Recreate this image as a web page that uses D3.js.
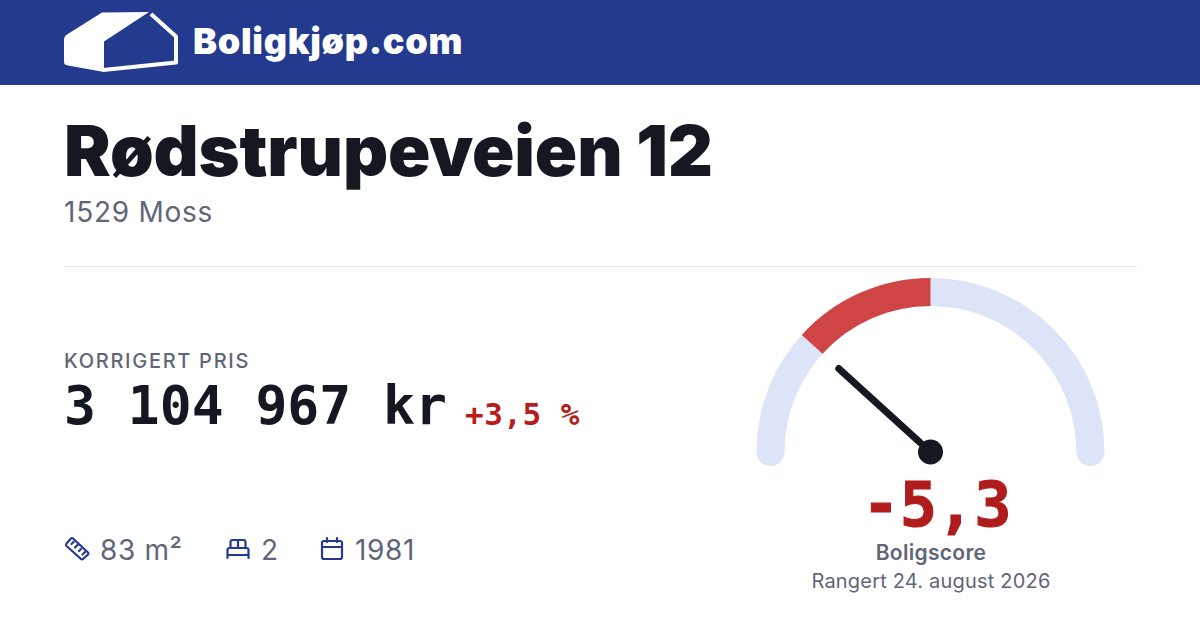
<!DOCTYPE html>
<html lang="en">
<head>
    <meta charset="UTF-8">
    <title>Boligkjøp.com</title>
    <style>
        html, body { margin: 0; padding: 0; background: #fff; }
        svg { display: block; }
        text { font-family: Inter, "Noto Sans", sans-serif; }
        .mono { font-family: "DejaVu Sans Mono", "Liberation Mono", monospace; }
        .icon { fill: none; stroke: #243a8f; stroke-width: 2.2; stroke-linecap: round; stroke-linejoin: round; }
    </style>
    <script src="https://d3js.org/d3.v7.min.js"></script>
</head>
<body>
    <script>
        const siteName = "Boligkjøp.com";
        const address = "Rødstrupeveien 12";
        const place = "1529 Moss";
        const priceLabel = "KORRIGERT PRIS";
        const priceText = "3 104 967 kr";
        const priceChange = "+3,5 %";
        const facts = ["83 m²", "2", "1981"];
        const scoreValue = -5.3;
        const scoreDomain = [-10, 10];
        const scoreText = "-5,3";
        const scoreLabel = "Boligscore";
        const ratedText = "Rangert 24. august 2026";

        const svg = d3.select("body").append("svg")
            .attr("width", 1200).attr("height", 630).attr("viewBox", "0 0 1200 630");

        // Header
        svg.append("rect").attr("width", 1200).attr("height", 85).attr("fill", "#243a8f");
        const logo = svg.append("g");
        logo.append("path").attr("fill", "#fff")
            .attr("d", "M104 72 L68 65.5 Q64 65 64 62 L64 40 Q64 36 67 34.5 L102 12.5 L149 12 L104 41.5 L104 68 Z");
        logo.append("path").attr("fill", "none").attr("stroke", "#fff").attr("stroke-width", 4).attr("stroke-linejoin", "round")
            .attr("d", "M151 14 L176 36.5 L176 62.5 L103 70");
        svg.append("text").text(siteName).attr("x", 193).attr("y", 54)
            .attr("font-size", 36).attr("font-weight", 900).attr("letter-spacing", 0.7).attr("fill", "#fff");

        // Address
        svg.append("text").text(address).attr("x", 64).attr("y", 176)
            .attr("font-size", 70).attr("font-weight", 900).attr("letter-spacing", -0.15).attr("fill", "#151821");
        svg.append("text").text(place).attr("x", 64).attr("y", 222)
            .attr("font-size", 28).attr("letter-spacing", 0.75).attr("fill", "#5f6678");
        svg.append("line").attr("x1", 64).attr("x2", 1137).attr("y1", 266.5).attr("y2", 266.5).attr("stroke", "#e5e7eb");

        // Price
        svg.append("text").text(priceLabel).attr("x", 64).attr("y", 368)
            .attr("font-size", 20).attr("font-weight", 500).attr("letter-spacing", 1.7).attr("fill", "#5f6678");
        svg.append("text").attr("class", "mono").text(priceText).attr("x", 64).attr("y", 424)
            .attr("font-size", 53).attr("font-weight", 700).attr("fill", "#151821");
        svg.append("text").attr("class", "mono").text(priceChange).attr("x", 465).attr("y", 425)
            .attr("font-size", 31).attr("font-weight", 700).attr("letter-spacing", 0.5).attr("fill", "#b91c1c");

        // Facts row
        const factX = [100, 261, 355];
        svg.selectAll("text.fact").data(facts).join("text").attr("class", "fact")
            .text(d => d).attr("x", (d, i) => factX[i]).attr("y", 560)
            .attr("font-size", 28).attr("letter-spacing", 0.65).attr("fill", "#5f6678");
        const icons = svg.append("g").attr("class", "icon");
        icons.append("path").attr("d", "M66.5 543.5 L71 538.5 Q72 537.5 73 538.5 L88 552.5 Q89 553.5 88 554.5 L83 559 Q82 560 81 559 L66.5 546 Q65.5 545 66.5 543.5 Z M71.5 544 L73.5 542 M75 547.5 L78 544.5 M79 551 L81 549 M82.5 554.5 L85 552");
        icons.append("path").attr("d", "M227.5 558 L227.5 550 Q227.5 548 229.5 548 L246.5 548 Q248.5 548 248.5 550 L248.5 558 M227.5 555 L248.5 555 M230.5 548 L230.5 542 Q230.5 540 232.5 540 L243.5 540 Q245.5 540 245.5 542 L245.5 548 M238 540 L238 548");
        icons.append("rect").attr("x", 322).attr("y", 541).attr("width", 20).attr("height", 18).attr("rx", 2);
        icons.append("path").attr("d", "M322 547 L342 547 M327 538 L327 542 M337 538 L337 542");

        // Gauge
        const cx = 930.5, cy = 452;
        const angle = d3.scaleLinear().domain(scoreDomain).range([-Math.PI / 2, Math.PI / 2]);
        const gauge = svg.append("g").attr("transform", `translate(${cx},${cy})`);
        const radial = d3.arc().innerRadius(146).outerRadius(174);
        gauge.append("path")
            .attr("d", radial({ startAngle: angle(scoreDomain[0]), endAngle: angle(scoreDomain[1]) }))
            .attr("fill", "#dee4f7");
        gauge.selectAll("circle.cap").data(scoreDomain).join("circle").attr("class", "cap")
            .attr("cx", d => 160 * Math.sin(angle(d))).attr("cy", 0).attr("r", 14).attr("fill", "#dee4f7");
        gauge.append("path")
            .attr("d", radial({ startAngle: angle(scoreValue), endAngle: angle(0) }))
            .attr("fill", "#cf4546");
        const a = angle(scoreValue);
        gauge.append("line")
            .attr("x1", 14 * Math.sin(a)).attr("y1", -14 * Math.cos(a))
            .attr("x2", 124 * Math.sin(a)).attr("y2", -124 * Math.cos(a))
            .attr("stroke", "#151821").attr("stroke-width", 7).attr("stroke-linecap", "round");
        gauge.append("circle").attr("r", 12.5).attr("fill", "#151821");

        // Score text
        svg.append("text").attr("class", "mono").text(scoreText).attr("x", 937).attr("y", 526)
            .attr("text-anchor", "middle").attr("font-size", 62).attr("font-weight", 700)
            .attr("stroke", "#b01c1c").attr("stroke-width", 1).attr("fill", "#b01c1c");
        svg.append("text").text(scoreLabel).attr("x", 931).attr("y", 560)
            .attr("text-anchor", "middle").attr("font-size", 21).attr("font-weight", 600).attr("letter-spacing", 0.3).attr("fill", "#5f6678");
        svg.append("text").text(ratedText).attr("x", 931).attr("y", 588)
            .attr("text-anchor", "middle").attr("font-size", 20).attr("letter-spacing", 0.2).attr("fill", "#5f6678");
    </script>
</body>
</html>
